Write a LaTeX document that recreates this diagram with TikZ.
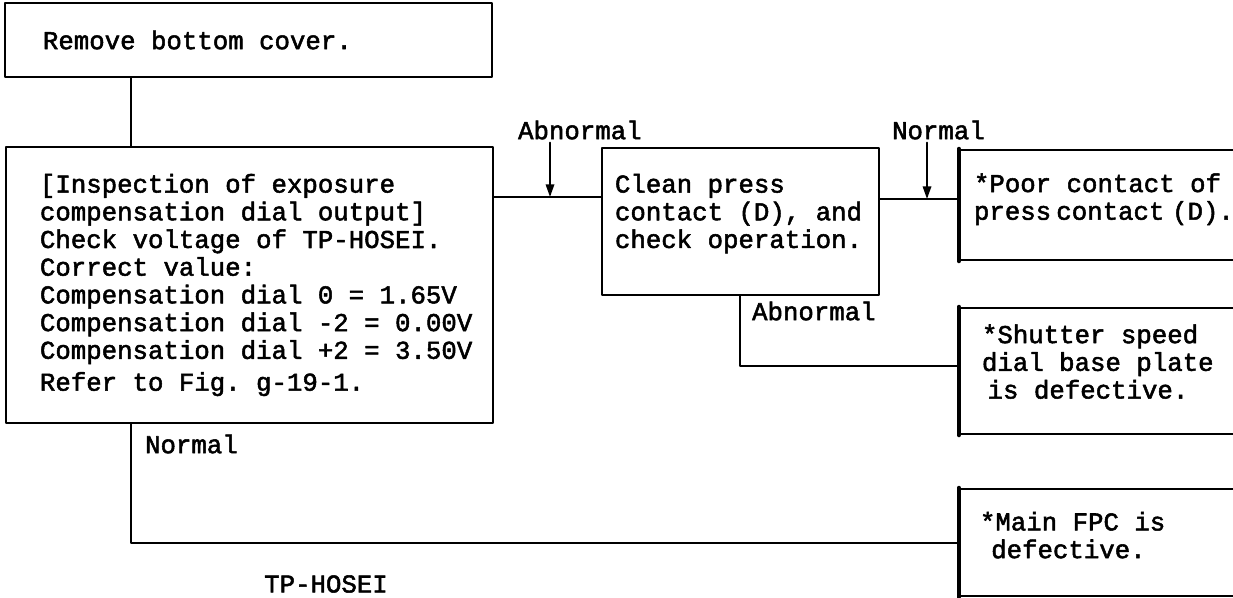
\documentclass[tikz,border=0pt]{standalone}
\usepackage{fontspec}
\usetikzlibrary{arrows.meta,positioning}
\newfontfamily\flowfont[FakeBold=2]{Liberation Mono}
\newcommand\padbelow[1]{\rule[-#1]{0pt}{#1}}
\newcommand\monospaces{\spaceskip=\fontcharwd\font`M\relax\xspaceskip=\spaceskip}
\tikzset{
  flowfnt/.style={font=\flowfont\fontsize{18.3}{19.7}\selectfont,execute at begin node=\monospaces},
  stepbox/.style={draw,line width=1.6pt,flowfnt,align=left,inner ysep=0pt},
  flowline/.style={line width=1.3pt},
  branch/.style={flowfnt,inner sep=2pt,anchor=west}
}

\begin{document}
\begin{tikzpicture}[x=0.025cm,y=-0.025cm,line cap=round,line join=round]
  \useasboundingbox (0,0) rectangle (1233,597);
  \coordinate (stem) at (131,0);\coordinate (b1) at (740,0);
  \coordinate (r1) at (0,197);\coordinate (r2) at (0,199);\coordinate (r3) at (0,366);\coordinate (r4) at (0,543);
  \coordinate (a1) at (550,197);\coordinate (a2) at (927,199);
  % steps
  \node[stepbox,minimum width=12.175cm,minimum height=1.85cm,text width=10.275cm,inner xsep=0.95cm] (remove) at (248.5,40) {Remove bottom cover.};
  \node[stepbox,minimum width=12.175cm,minimum height=6.9cm,text width=10.925cm,inner xsep=0.625cm,
    execute at begin node={\leftskip=0.225cm\rightskip=-0.225cm plus 1fil}] (inspect) at (249.5,285)
    {[Inspection of exposure\\compensation dial output]\\Check voltage of TP-HOSEI.\\Correct value:\\Compensation dial 0 = 1.65V\\Compensation dial -2 = 0.00V\\Compensation dial +2 = 3.50V\\[3pt]Refer to Fig. g-19-1.};
  \node[stepbox,minimum width=6.925cm,minimum height=3.675cm,text width=6.275cm,inner xsep=0.325cm] (clean) at (740.5,221.5)
    {Clean press\\contact (D), and\\check operation.\padbelow{15pt}};
  % results
  \node[stepbox,minimum width=8.5cm,minimum height=2.75cm,text width=7.8cm,inner xsep=0.35cm] (poor) at (1130,205)
    {*Poor contact of\\press\hspace{0.2em}contact\hspace{0.3em}(D).\padbelow{12pt}};
  \node[stepbox,minimum width=8.5cm,minimum height=3.15cm,text width=7.4cm,inner xsep=0.55cm] (shutter) at (1130,371)
    {*Shutter speed\\dial base plate\\\hspace*{4pt}is defective.\padbelow{13.5pt}};
  \node[stepbox,minimum width=8.5cm,minimum height=2.675cm,text width=7.5cm,inner xsep=0.5cm] (mainfpc) at (1130,542.5)
    {*Main FPC is\\\hspace*{8pt}defective.\padbelow{10.7pt}};
  \foreach \R in {poor,shutter,mainfpc}{\draw[line width=3pt] (\R.north west)--(\R.south west);}
  % labels
  \node[branch] (abnA) at (515,130) {Abnormal};
  \node[branch] (normA) at (889,130) {Normal};
  \node[branch] (abnB) at (749,311) {Abnormal};
  \node[branch] (normB) at (142,444) {Normal};
  \node[flowfnt,inner sep=2pt] (hosei) at (326,584) {TP-HOSEI};
  % connectors
  \draw[flowline] (remove.south -| stem)--(inspect.north -| stem);
  \draw[flowline] (inspect.east |- r1)--(clean.west |- r1);
  \draw[flowline] (clean.east |- r2)--(poor.west |- r2);
  \draw[flowline] (clean.south -| b1) |- (shutter.west |- r3);
  \draw[flowline] (inspect.south -| stem) |- (mainfpc.west |- r4);
  \draw[flowline,-{Triangle[length=9pt,width=6pt]}] (abnA.south -| a1)--(a1);
  \draw[flowline,-{Triangle[length=9pt,width=6pt]}] (normA.south -| a2)--(a2);
\end{tikzpicture}
\end{document}
